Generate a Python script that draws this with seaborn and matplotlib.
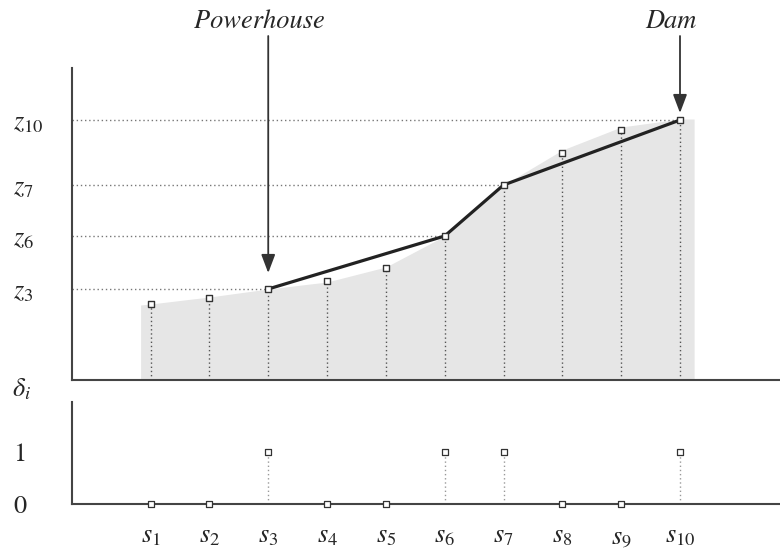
import numpy as np
import pandas as pd
import matplotlib.pyplot as plt
import seaborn as sns
from matplotlib.patches import FancyArrowPatch

sns.set_style("white")
plt.rcParams["mathtext.fontset"] = "stix"
plt.rcParams["font.family"] = ["STIXGeneral", "DejaVu Serif"]

# site data
sites = [1, 2, 3, 4, 5, 6, 7, 8, 9, 10]
site_labels = [r"$s_{%d}$" % i for i in sites]
elevation = [7.6, 8.2, 9.1, 9.9, 11.2, 14.4, 19.5, 22.7, 25.0, 26.0]
delta = [0, 0, 1, 0, 0, 1, 1, 0, 0, 1]

# terrain profile behind the sites
terrain_x = [0.83, 1, 2, 3, 4, 5, 6, 7, 8, 9, 10, 10.24]
terrain_z = [7.5, 7.6, 8.3, 9.1, 9.8, 11.3, 14.4, 19.5, 23.0, 25.3, 26.1, 26.1]

powerhouse_site = 3
dam_site = 10

df = pd.DataFrame({"site": sites, "z": elevation, "delta": delta})
sel = df[df["delta"] == 1]

fig = plt.figure(figsize=(7.8, 5.48), dpi=100)
ax1 = fig.add_axes([0.092, 0.3066, 0.908, 0.5693])
ax2 = fig.add_axes([0.092, 0.0803, 0.908, 0.1861])

xlim = (-0.34, 11.70)
dot = (0, (1, 2))

# ---- top panel: elevations
ax1.fill_between(terrain_x, terrain_z, color="#e6e6e6", lw=0, zorder=0)
ax1.vlines(df["site"], 0, df["z"], colors="#555555", linestyles=dot, lw=1, zorder=1)
ax1.hlines(sel["z"], xlim[0], sel["site"], colors="#777777", linestyles=dot, lw=1, zorder=1)
sns.lineplot(x=sel["site"].values, y=sel["z"].values, ax=ax1, color="#222222", lw=2.3, zorder=3)
sns.scatterplot(data=df, x="site", y="z", ax=ax1, marker="s", s=18, color="white",
                edgecolor="#333333", linewidth=1, zorder=5, clip_on=False)

ax1.set_xlim(xlim)
ax1.set_ylim(0, 31.2)
ax1.set_xticks([])
ax1.set_yticks(sel["z"].values)
ax1.set_yticklabels([r"$z_{%d}$" % i for i in sel["site"]], fontsize=19)
ax1.tick_params(axis="y", length=0, pad=42)
for lbl in ax1.get_yticklabels():
    lbl.set_ha("left")
ax1.set_xlabel("")
ax1.set_ylabel("")

# arrows
zd = dict(zip(sites, elevation))
for site, name, gap in [(powerhouse_site, "Powerhouse", 1.6), (dam_site, "Dam", 0.7)]:
    arr = FancyArrowPatch((site, 34.4), (site, zd[site] + gap),
                          arrowstyle="-|>,head_length=4.5,head_width=1.7",
                          color="#333333", lw=1.3, mutation_scale=2.5, shrinkA=0, shrinkB=0,
                          clip_on=False, zorder=6)
    ax1.add_patch(arr)
    ax1.text(site - 0.15, 35.8, name, style="italic",
             fontsize=19, ha="center", va="center", clip_on=False)

# ---- bottom panel: selection indicators
ax2.vlines(sel["site"], 0, sel["delta"], colors="#999999", linestyles=dot, lw=1, zorder=1)
sns.scatterplot(data=df, x="site", y="delta", ax=ax2, marker="s", s=14, color="white",
                edgecolor="#333333", linewidth=0.9, zorder=5, clip_on=False)
ax2.set_xlim(xlim)
ax2.set_ylim(0, 1.96)
ax2.set_xticks(sites)
ax2.set_xticklabels(site_labels, fontsize=19)
ax2.set_yticks([0, 1])
ax2.set_yticklabels(["0", "1"], fontsize=19)
ax2.tick_params(axis="x", length=0, pad=15)
ax2.tick_params(axis="y", length=0, pad=42)
for lbl in ax2.get_yticklabels():
    lbl.set_ha("left")
ax2.set_xlabel("")
ax2.set_ylabel("")
fig.text(12 / 780, 1 - 390 / 548, r"$\delta_i$", fontsize=19, ha="left", va="center")

for ax in (ax1, ax2):
    sns.despine(ax=ax)
    for s in ("left", "bottom"):
        ax.spines[s].set_linewidth(1.5)
        ax.spines[s].set_color("#444444")

fig.savefig("out.png", dpi=100)
